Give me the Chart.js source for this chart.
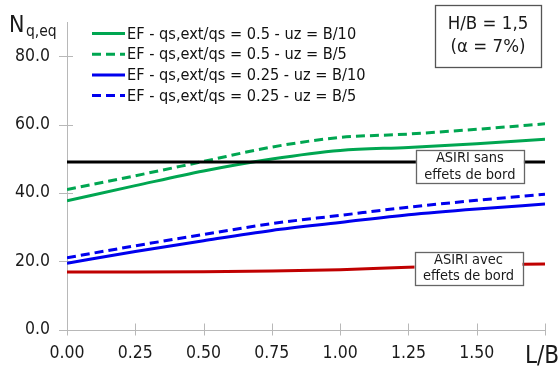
<!DOCTYPE html>
<html>
<head>
<meta charset="utf-8">
<script src="https://cdn.jsdelivr.net/npm/chart.js@4/dist/chart.umd.min.js"></script>
<style>
  html, body { margin: 0; padding: 0; background: #fff; }
  #chartNq { display: block; }
</style>
</head>
<body>
<canvas id="chartNq" width="559" height="367"></canvas>
<script>
// valeurs (L/B en abscisse, Nq,eq en ordonnee)
const lbValues = [0, 0.25, 0.5, 0.75, 1.0, 1.25, 1.5, 1.75];
const efGreenB10 = [37.7, 42.1, 46.4, 49.9, 52.4, 53.3, 54.4, 55.7];
const efGreenB5 = [41.0, 45.0, 49.2, 53.4, 56.2, 57.2, 58.6, 60.2];
const efBlueB10 = [19.4, 22.8, 26.0, 29.0, 31.3, 33.6, 35.3, 36.7];
const efBlueB5 = [21.0, 24.5, 27.8, 31.0, 33.4, 35.8, 37.8, 39.6];
const asiriSans = [49, 49, 49, 49, 49, 49, 49, 49];
const asiriAvec = [16.8, 16.8, 16.9, 17.1, 17.5, 18.2, 18.8, 19.2];
const yTicks = [0, 20, 40, 60, 80];

const legendLabels = [
  'EF - qs,ext/qs = 0.5 - uz = B/10',
  'EF - qs,ext/qs = 0.5 - uz = B/5',
  'EF - qs,ext/qs = 0.25 - uz = B/10',
  'EF - qs,ext/qs = 0.25 - uz = B/5'
];

const FONT = "'DejaVu Sans Condensed', 'DejaVu Sans', sans-serif";
const GREEN = '#00a651';
const BLUE = '#0000ee';
const RED = '#c00000';
const AXIS = '#b8b8b8';

const pts = arr => lbValues.map((x, i) => ({ x: x, y: arr[i] }));

function serie(label, arr, color, dashed, inLegend) {
  return {
    label: label,
    data: pts(arr),
    borderColor: color,
    backgroundColor: color,
    borderWidth: 3,
    borderDash: dashed ? [9, 5] : [],
    pointRadius: 0,
    cubicInterpolationMode: 'monotone',
    fill: false,
    inLegend: inLegend
  };
}

// axes, petites graduations cote interieur, legende, encadres
const decor = {
  id: 'decor',
  beforeDatasetsDraw(chart) {
    const ctx = chart.ctx;
    const xs = chart.scales.x, ys = chart.scales.y;
    const area = chart.chartArea;
    ctx.save();
    ctx.strokeStyle = AXIS;
    ctx.lineWidth = 1;
    ctx.beginPath();
    const lx = Math.round(area.left) + 0.5;
    const by = Math.round(area.bottom) + 0.5;
    ctx.moveTo(lx, area.top);
    ctx.lineTo(lx, by);
    ctx.lineTo(area.right, by);
    yTicks.forEach(v => {
      const py = Math.round(ys.getPixelForValue(v)) + 0.5;
      ctx.moveTo(area.left - 8, py);
      ctx.lineTo(area.left + 6, py);
    });
    lbValues.forEach(v => {
      const px = Math.round(xs.getPixelForValue(v)) + 0.5;
      ctx.moveTo(px, area.bottom + 6);
      ctx.lineTo(px, area.bottom - 6);
    });
    ctx.stroke();
    ctx.restore();
  },
  afterDatasetsDraw(chart) {
    const ctx = chart.ctx;
    const xs = chart.scales.x, ys = chart.scales.y;
    const area = chart.chartArea;
    ctx.save();

    // legende
    const legendSets = chart.data.datasets.filter(d => d.inLegend);
    legendSets.forEach((d, i) => {
      const y = 33.5 + i * 20.7;
      ctx.strokeStyle = d.borderColor;
      ctx.lineWidth = 3;
      ctx.setLineDash(d.borderDash);
      ctx.beginPath();
      ctx.moveTo(92, y);
      ctx.lineTo(125, y);
      ctx.stroke();
      ctx.setLineDash([]);
      ctx.fillStyle = '#111';
      ctx.font = '16.2px ' + FONT;
      ctx.textBaseline = 'middle';
      ctx.textAlign = 'left';
      ctx.fillText(d.label, 127, y + 1);
    });

    // encadres
    const box = (cx, cy, w, h, lines, size, lineGap, border) => {
      ctx.fillStyle = '#fff';
      ctx.fillRect(cx - w / 2, cy - h / 2, w, h);
      ctx.strokeStyle = border;
      ctx.lineWidth = 1.3;
      ctx.strokeRect(Math.round(cx - w / 2) + 0.5, Math.round(cy - h / 2) + 0.5, w, h);
      ctx.fillStyle = '#1a1a1a';
      ctx.font = size + 'px ' + FONT;
      ctx.textAlign = 'center';
      ctx.textBaseline = 'middle';
      lines.forEach((t, k) => {
        ctx.fillText(t, cx, cy + (k - (lines.length - 1) / 2) * lineGap);
      });
    };
    box(xs.getPixelForValue(1.475), ys.getPixelForValue(47.7), 108, 33,
      ['ASIRI sans', 'effets de bord'], 14.5, 17, '#666');
    box(xs.getPixelForValue(1.47), ys.getPixelForValue(18.0), 108, 33,
      ['ASIRI avec', 'effets de bord'], 14.5, 15.5, '#666');
    box(area.right - 57, 36, 106, 62, ['H/B = 1,5', '(\u03b1 = 7%)'], 18.5, 23, '#555');

    // titres d'axes
    ctx.fillStyle = '#1a1a1a';
    ctx.textAlign = 'left';
    ctx.textBaseline = 'alphabetic';
    ctx.font = '23px ' + FONT;
    ctx.fillText('N', 9, 32);
    ctx.font = '15.5px ' + FONT;
    ctx.fillText('q,eq', 26, 36);
    ctx.font = '24px ' + FONT;
    ctx.fillText('L/B', 525, 363);
    ctx.restore();
  }
};

const ctx = document.getElementById('chartNq').getContext('2d');
new Chart(ctx, {
  type: 'line',
  data: {
    datasets: [
      serie('ASIRI sans effets de bord', asiriSans, '#000', false, false),
      serie('ASIRI avec effets de bord', asiriAvec, RED, false, false),
      serie(legendLabels[0], efGreenB10, GREEN, false, true),
      serie(legendLabels[1], efGreenB5, GREEN, true, true),
      serie(legendLabels[2], efBlueB10, BLUE, false, true),
      serie(legendLabels[3], efBlueB5, BLUE, true, true)
    ]
  },
  options: {
    responsive: false,
    animation: false,
    devicePixelRatio: 1,
    layout: { padding: { top: 22, right: 14, left: 0, bottom: 0 } },
    plugins: {
      legend: { display: false },
      tooltip: { enabled: false }
    },
    scales: {
      x: {
        type: 'linear',
        min: 0,
        max: 1.75,
        afterFit: s => { s.height = 37.5; },
        ticks: {
          stepSize: 0.25,
          autoSkip: false,
          maxRotation: 0,
          padding: 7,
          color: '#1a1a1a',
          font: { family: FONT, size: 17.5 },
          callback: v => (v >= 1.75 ? '' : Number(v).toFixed(2))
        },
        grid: { display: false, tickLength: 6 },
        border: { display: false }
      },
      y: {
        min: 0,
        max: 90,
        afterFit: s => { s.width = 67; },
        afterBuildTicks: s => { s.ticks = yTicks.map(v => ({ value: v })); },
        ticks: {
          padding: 9,
          color: '#1a1a1a',
          font: { family: FONT, size: 17.5 },
          callback: v => Number(v).toFixed(1)
        },
        grid: { display: false, tickLength: 8 },
        border: { display: false }
      }
    }
  },
  plugins: [decor]
});
</script>
</body>
</html>
